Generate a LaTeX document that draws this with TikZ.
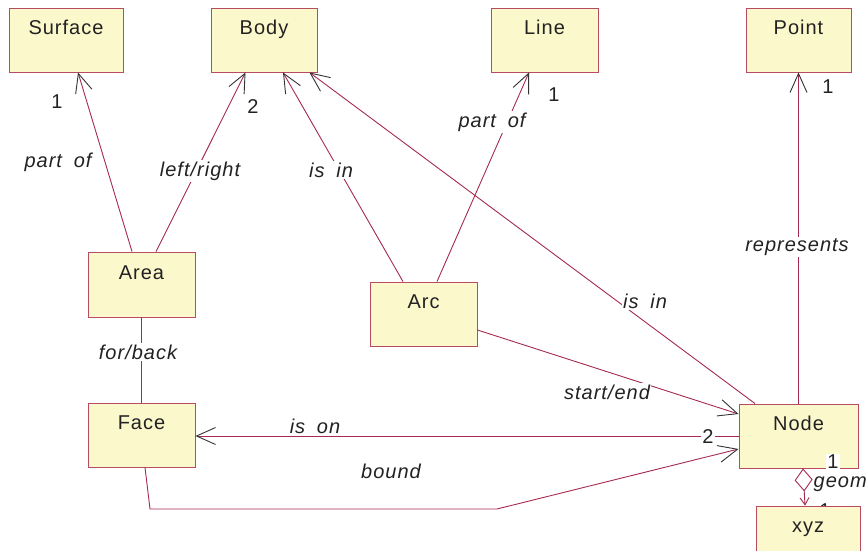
\documentclass[tikz,border=0pt]{standalone}
\usepackage{fontspec}
\setmainfont{Liberation Sans}[LetterSpace=5,WordSpace=1.8]
\usetikzlibrary{arrows.meta}
\definecolor{boxfill}{HTML}{FBF9CC}
\definecolor{boxborder}{HTML}{B84A62}
\definecolor{linecol}{HTML}{A52A4D}
\definecolor{headcol}{HTML}{333333}
\definecolor{txt}{HTML}{222222}
\begin{document}
\begin{tikzpicture}[x=1pt,y=-1pt,
  box/.style={draw=boxborder, fill=boxfill, line width=0.9pt, inner xsep=0pt, inner ysep=12pt,
    text height=14.5pt, text depth=25.5pt, minimum height=64pt, text=txt,
    font=\fontsize{20}{24}\selectfont},
  lbl/.style={font=\itshape\fontsize{20}{24}\selectfont, fill=white, inner sep=1.5pt, text=txt},
  num/.style={font=\fontsize{20}{24}\selectfont, inner sep=1pt, text=txt},
  conn/.style={draw=linecol, line width=0.9pt},
  assoc/.style={conn, -{Straight Barb[length=19pt,width=17pt,color=headcol,line width=0.9pt]}},
]
\useasboundingbox (0,0) rectangle (867,551);
\clip (0,0) rectangle (867,551);

% boxes
\node[box, minimum width=114pt] (surface) at (66,40) {Surface};
\node[box, minimum width=106pt] (body) at (264,40) {Body};
\node[box, minimum width=107pt] (line) at (544.5,40) {Line};
\node[box, minimum width=105pt] (point) at (798.5,40) {Point};
\node[box, minimum width=107pt, minimum height=65pt] (area) at (141.5,284.5) {Area};
\node[box, minimum width=107pt] (face) at (141.5,435) {Face};
\node[box, minimum width=107pt] (arc) at (423.5,314) {Arc};
\node[box, minimum width=119pt, minimum height=62pt] (node) at (798.5,436) {Node};
\node[num, fill=white] (m7) at (825,511) {1};
\node[box, minimum width=104pt] (xyz) at (808,538) {xyz};

% connectors
\draw[assoc] ([xshift=-9.5pt]area.north) -- ([xshift=12pt]surface.south);
\draw[assoc] ([xshift=14.5pt]area.north) -- ([xshift=-18.5pt]body.south);
\draw[assoc] ([xshift=-20.5pt]arc.north) -- ([xshift=19pt]body.south);
\draw[assoc] ([xshift=13.5pt]arc.north) -- ([xshift=-15.5pt]line.south);
\draw[assoc] ([xshift=-43.5pt]node.north) -- ([xshift=-8pt]body.south east);
\draw[assoc] ([yshift=-16pt]arc.east) -- ([yshift=22pt]node.west);
\draw[assoc] (node.west) -- (node.west -| face.east);
\coordinate (b1) at (150,509);
\coordinate (b2) at (497,509);
\draw[assoc] ([xshift=3.5pt]face.south) -- (b1) -- (b2) -- ([yshift=-13pt]node.west);
\draw[assoc] (node.north) -- (point.south);
\draw[conn] (area.south) -- (face.north);
\draw[conn, {Diamond[open,length=23pt,width=18pt,fill=white]}-{Straight Barb[length=7pt,width=9pt,line width=0.9pt]}]
  ([xshift=4.5pt]node.south) -- ([xshift=-3pt]xyz.north);

% labels
\node[lbl, fill=none] (l1) at (58,162) {part of};
\node[lbl] (l2) at (200,171) {left/right};
\node[lbl] (l3) at (331,170) {is in};
\node[lbl] (l4) at (492,122) {part of};
\node[lbl] (l5) at (797,247) {represents};
\node[lbl] (l6) at (645,301) {is in};
\node[lbl] (l7) at (138,352) {for/back};
\node[lbl] (l8) at (607,392) {start/end};
\node[lbl] (l9) at (315,426) {is on};
\node[lbl, fill=none] (l10) at (391,471) {bound};
\node[lbl, fill=none, anchor=west] (l11) at (812,484) {geom};

% multiplicities
\node[num] (m1) at (57,102) {1};
\node[num] (m2) at (253,107) {2};
\node[num] (m3) at (554,95) {1};
\node[num] (m4) at (828,87) {1};
\node[num, fill=white] (m5) at (708,437) {2};
\node[num, fill=white] (m6) at (833,462) {1};
\end{tikzpicture}
\end{document}
